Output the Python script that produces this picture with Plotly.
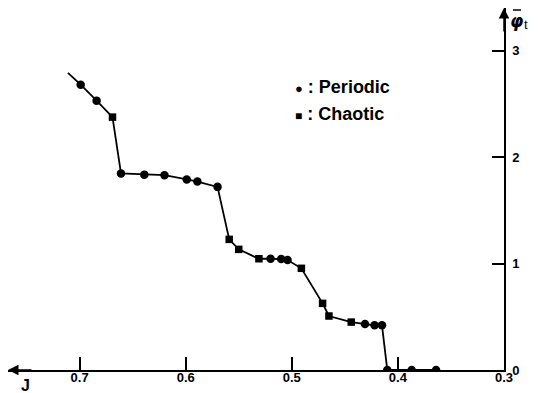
import plotly.graph_objects as go

# Data (J on a reversed axis, phi_t mean)
J_line = [0.711, 0.699, 0.684, 0.669, 0.661, 0.639, 0.620, 0.599, 0.589, 0.570,
          0.559, 0.550, 0.531, 0.520, 0.510, 0.504, 0.491, 0.471, 0.465, 0.444,
          0.431, 0.422, 0.415, 0.410, 0.387, 0.364]
phi_line = [2.79, 2.68, 2.53, 2.375, 1.846, 1.835, 1.83, 1.79, 1.77, 1.72,
            1.227, 1.133, 1.045, 1.045, 1.042, 1.033, 0.955, 0.626, 0.507, 0.45,
            0.432, 0.42, 0.42, 0.0, 0.0, 0.0]
# regime of each marked point ('' = no marker, line start)
regime = ['', 'P', 'P', 'C', 'P', 'P', 'P', 'P', 'P', 'P',
          'C', 'C', 'C', 'P', 'P', 'P', 'C', 'C', 'C', 'C',
          'P', 'P', 'P', 'P', 'P', 'P']

x_ticks = [0.7, 0.6, 0.5, 0.4, 0.3]
x_ticklabels = ['0.7', '0.6', '0.5', '0.4', '0.3']
y_ticks = [0, 1, 2, 3]
y_ticklabels = ['0', '1', '2', '3']

X_MAX, X_MIN = 0.7675, 0.3
Y_MIN, Y_MAX = 0.0, 3.40

Jp = [j for j, r in zip(J_line, regime) if r == 'P']
Pp = [p for p, r in zip(phi_line, regime) if r == 'P']
Jc = [j for j, r in zip(J_line, regime) if r == 'C']
Pc = [p for p, r in zip(phi_line, regime) if r == 'C']

fig = go.Figure()
fig.add_trace(go.Scatter(x=J_line, y=phi_line, mode='lines',
                         line=dict(color='black', width=1.8), showlegend=False,
                         hoverinfo='skip'))
fig.add_trace(go.Scatter(x=Jp, y=Pp, mode='markers', name='Periodic',
                         marker=dict(symbol='circle', size=8.5, color='black'),
                         showlegend=False))
fig.add_trace(go.Scatter(x=Jc, y=Pc, mode='markers', name='Chaotic',
                         marker=dict(symbol='square', size=7.5, color='black'),
                         showlegend=False))

font_fam = 'Liberation Sans, Arial, Helvetica, sans-serif'

# page pixel -> paper helpers (page has an 8px body margin)
PL, PR, PT, PB = 8, 504, 8, 370


def px(xp):
    return (xp - PL) / (PR - PL)


def py(yp):
    return (PB - yp) / (PB - PT)


fig.update_layout(
    width=530, height=385,
    margin=dict(l=0, r=34, t=0, b=23, pad=0),
    paper_bgcolor='white', plot_bgcolor='white',
    xaxis=dict(range=[X_MAX, X_MIN], showgrid=False, zeroline=False,
               showline=True, linecolor='black', linewidth=1.5,
               tickmode='array', tickvals=x_ticks, ticktext=x_ticklabels,
               ticks='inside', ticklen=13, tickwidth=1.5, tickcolor='black',
               ticklabelstandoff=-5,
               tickfont=dict(family=font_fam, size=13, color='black', weight='bold')),
    yaxis=dict(range=[Y_MIN, Y_MAX], side='right', showgrid=False, zeroline=False,
               showline=True, linecolor='black', linewidth=1.5,
               tickmode='array', tickvals=y_ticks, ticktext=y_ticklabels,
               ticks='inside', ticklen=12, tickwidth=1.5, tickcolor='black',
               ticklabelstandoff=4,
               tickfont=dict(family=font_fam, size=13, color='black', weight='bold')),
    showlegend=False,
)

# axis arrows
fig.add_annotation(x=X_MAX, y=Y_MIN, xref='x', yref='y', ax=25, ay=0,
                   showarrow=True, arrowhead=2, arrowsize=1.4, arrowwidth=1.5,
                   arrowcolor='black', text='')
fig.add_annotation(x=X_MIN, y=Y_MAX, xref='x', yref='y', ax=0, ay=25,
                   showarrow=True, arrowhead=2, arrowsize=1.4, arrowwidth=1.5,
                   arrowcolor='black', text='')

# axis titles
fig.add_annotation(xref='paper', yref='paper', x=px(25), y=py(386),
                   xanchor='center', yanchor='middle',
                   text='<b>J</b>', showarrow=False,
                   font=dict(family=font_fam, size=16, color='black'))
# phi-bar with subscript t
fig.add_annotation(xref='paper', yref='paper', x=px(517), y=py(21),
                   xanchor='center', yanchor='middle',
                   text='<b><i>φ</i></b>', showarrow=False,
                   font=dict(family='DejaVu Sans, sans-serif', size=17, color='black'))
fig.add_annotation(xref='paper', yref='paper', x=px(526), y=py(24),
                   xanchor='center', yanchor='middle',
                   text='t', showarrow=False,
                   font=dict(family=font_fam, size=13, color='black'))
fig.add_shape(type='line', xref='paper', yref='paper',
              x0=px(513), x1=px(521), y0=py(10), y1=py(10),
              line=dict(color='black', width=1.5))

# legend as text
fig.add_annotation(xref='paper', yref='paper', x=px(293), y=py(87),
                   xanchor='left', yanchor='middle', showarrow=False,
                   text="<span style='font-size:13px'>●</span> : Periodic",
                   font=dict(family=font_fam, size=18, color='black', weight='bold'))
fig.add_annotation(xref='paper', yref='paper', x=px(293), y=py(114),
                   xanchor='left', yanchor='middle', showarrow=False,
                   text="<span style='font-size:12px'>■</span> : Chaotic",
                   font=dict(family=font_fam, size=18, color='black', weight='bold'))

fig.write_html('out.html')
